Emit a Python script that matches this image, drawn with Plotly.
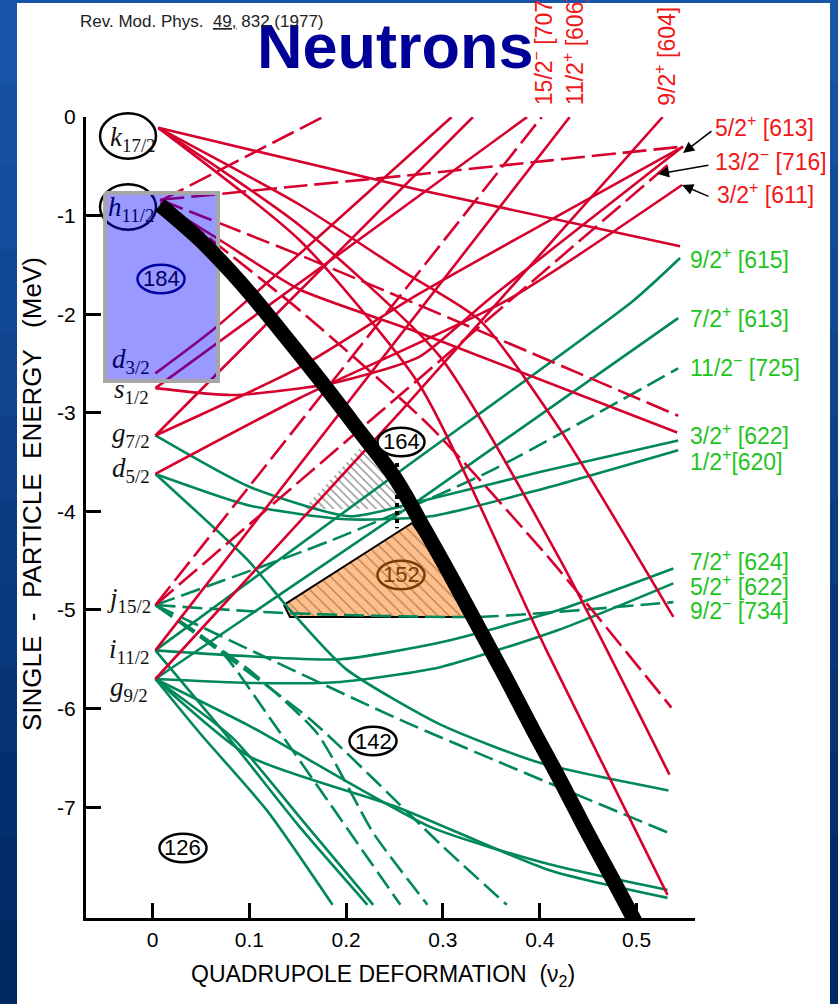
import plotly.graph_objects as go

# ---------------- axis set-up (data units) ----------------
X_RANGE = [-0.0687, 0.5604]
Y_RANGE = [-8.124, 0.0]

x_tick_values = [0, 0.1, 0.2, 0.3, 0.4, 0.5]
x_tick_text = ["0", "0.1", "0.2", "0.3", "0.4", "0.5"]
y_tick_values = [0, -1, -2, -3, -4, -5, -6, -7]
y_tick_text = ["0", "-1", "-2", "-3", "-4", "-5", "-6", "-7"]

# ---------------- spherical orbitals (labels at v = 0) ----------------
orbital_letter = ["k", "h", "d", "s", "g", "d", "j", "i", "g"]
orbital_sub = ["17/2", "11/2", "3/2", "1/2", "7/2", "5/2", "15/2", "11/2", "9/2"]
orbital_label_v = [-0.020, -0.022, -0.022, -0.022, -0.022, -0.022, -0.024, -0.024, -0.024]
orbital_label_E = [-0.22, -0.93, -2.47, -2.78, -3.23, -3.58, -4.90, -5.42, -5.80]
orbital_label_color = ["#111111", "#000066", "#000066", "#111111", "#111111",
                       "#111111", "#111111", "#111111", "#111111"]
orbital_ring_v = [-0.0253, -0.0253]          # ellipses around k17/2 and h11/2
orbital_ring_E = [-0.193, -0.913]

# ---------------- Nilsson levels (v2, E in MeV) ----------------
red_solid_levels = [
    [(0.006, -0.11), (0.276, -0.74), (0.545, -1.31)],
    [(0.006, -0.11), (0.152, -0.89), (0.256, -1.55), (0.338, -2.06), (0.421, -3.17), (0.538, -5.07)],
    [(0.006, -0.11), (0.152, -1.25), (0.276, -2.72), (0.407, -5.41), (0.532, -7.89)],
    [(0.006, -0.11), (0.152, -1.10), (0.297, -2.43), (0.421, -4.49), (0.534, -6.67)],
    [(0.008, -0.87), (0.070, -1.25), (0.152, -1.75), (0.276, -2.19), (0.542, -3.20)],
    [(0.003, -5.70), (0.256, -2.99), (0.527, 0.0)],
    [(0.003, -5.41), (0.431, 0.0)],
    [(0.003, -3.23), (0.152, -2.54), (0.276, -1.79), (0.548, -0.30)],
    [(0.003, -3.62), (0.152, -2.85), (0.366, -1.86), (0.547, -0.69)],
    [(0.003, -3.23), (0.331, 0.0)],
    [(0.003, -2.75), (0.387, 0.0)],
    [(0.003, -2.75), (0.083, -2.82), (0.186, -2.70), (0.276, -2.43), (0.346, -1.86), (0.548, -0.30)],
    [(0.003, -2.60), (0.066, -2.13), (0.309, 0.0)],
]
red_dashed_levels = [
    [(0.008, -0.84), (0.152, -0.70), (0.276, -0.58), (0.411, -0.44), (0.548, -0.30)],
    [(0.010, -0.84), (0.176, 0.0)],
    [(0.008, -0.84), (0.152, -1.40), (0.307, -2.04), (0.543, -3.03)],
    [(0.008, -0.84), (0.152, -1.96), (0.287, -3.14), (0.411, -4.49), (0.536, -5.99)],
    [(0.003, -4.95), (0.402, 0.0)],
    [(0.003, -4.95), (0.532, -0.49)],
]
green_solid_levels = [
    [(0.003, -5.41), (0.256, -3.59), (0.497, -1.86), (0.545, -1.43)],
    [(0.003, -5.70), (0.276, -3.88), (0.543, -2.04)],
    [(0.003, -3.23), (0.10, -3.75), (0.204, -4.05), (0.276, -3.90), (0.40, -3.60), (0.543, -3.28)],
    [(0.003, -3.62), (0.10, -3.94), (0.20, -4.08), (0.287, -4.05), (0.40, -3.78), (0.543, -3.38)],
    [(0.003, -5.41), (0.10, -5.47), (0.194, -5.50), (0.297, -5.33), (0.42, -5.0), (0.538, -4.58)],
    [(0.003, -5.70), (0.10, -5.74), (0.194, -5.73), (0.297, -5.58), (0.42, -5.2), (0.538, -4.73)],
    [(0.003, -5.70), (0.101, -6.18), (0.287, -7.20), (0.41, -7.58), (0.532, -7.84)],
    [(0.003, -5.70), (0.101, -6.49), (0.253, -7.00), (0.41, -7.64), (0.532, -7.92)],
    [(0.003, -3.62), (0.098, -4.49), (0.142, -5.0), (0.20, -5.6), (0.297, -6.16), (0.40, -6.55), (0.533, -6.83)],
    [(0.003, -5.70), (0.049, -6.25), (0.118, -7.03), (0.186, -7.99)],
    [(0.003, -5.41), (0.083, -6.35), (0.152, -7.20), (0.222, -7.99)],
    [(0.003, -5.70), (0.083, -6.30), (0.152, -7.10), (0.228, -7.99)],
]
green_dashed_levels = [
    [(0.003, -4.95), (0.186, -4.29), (0.345, -3.61), (0.543, -2.55)],
    [(0.003, -4.95), (0.135, -5.03), (0.338, -5.07), (0.538, -4.92)],
    [(0.003, -4.95), (0.255, -6.11), (0.533, -7.26)],
    [(0.003, -4.95), (0.163, -6.11), (0.30, -7.40), (0.366, -7.99)],
    [(0.003, -4.95), (0.10, -5.61), (0.17, -6.25), (0.228, -7.26), (0.284, -7.99)],
    [(0.003, -4.95), (0.07, -5.41), (0.125, -6.15), (0.19, -7.06), (0.256, -7.99)],
]

# thick black Fermi-level line
fermi_v = [0.0077, 0.0491, 0.0904, 0.1317, 0.1730, 0.2144, 0.2505, 0.2815,
           0.3104, 0.3383, 0.3662, 0.3931, 0.4210, 0.4478, 0.4757, 0.5005]
fermi_E = [-0.892, -1.247, -1.673, -2.160, -2.667, -3.195, -3.661, -4.189,
           -4.696, -5.203, -5.710, -6.217, -6.724, -7.231, -7.738, -8.195]

# shell gaps
gap152_v = [0.1358, 0.2681, 0.2805, 0.3146, 0.3260, 0.1420, 0.1358]
gap152_E = [-4.949, -4.118, -4.290, -4.899, -5.071, -5.071, -4.949]
gap164_v = [0.1555, 0.2144, 0.2536, 0.2629, 0.1555]
gap164_E = [-3.976, -3.357, -3.783, -3.976, -3.976]
gap164_mark_v = [0.2526, 0.2526]
gap164_mark_E = [-3.51, -4.17]

# N = 184 highlight box
box184_v = [-0.049, 0.0677, 0.0677, -0.049, -0.049]
box184_E = [-0.771, -0.771, -2.677, -2.677, -0.771]

# magic numbers
magic_text = ["184", "164", "152", "142", "126"]
magic_v = [0.0088, 0.2567, 0.2567, 0.2278, 0.0315]
magic_E = [-1.643, -3.296, -4.645, -6.329, -7.414]
magic_color = ["#000066", "#000000", "#7a3d00", "#000000", "#000000"]
magic_fill = ["rgba(0,0,0,0)", "white", "rgba(0,0,0,0)", "white", "white"]

# asymptotic labels on the right
right_text = ["5/2<sup>+</sup> [613]", "13/2<sup>−</sup> [716]", "3/2<sup>+</sup> [611]",
              "9/2<sup>+</sup> [615]", "7/2<sup>+</sup> [613]", "11/2<sup>−</sup> [725]",
              "3/2<sup>+</sup> [622]", "1/2<sup>+</sup>[620]", "7/2<sup>+</sup> [624]",
              "5/2<sup>+</sup> [622]", "9/2<sup>−</sup> [734]"]
right_v = [0.579, 0.579, 0.581, 0.553, 0.553, 0.553, 0.553, 0.553, 0.553, 0.553, 0.553]
right_E = [-0.09, -0.44, -0.77, -1.43, -2.03, -2.53, -3.22, -3.48, -4.49, -4.75, -4.99]
right_color = ["red", "red", "red", "green", "green", "green", "green", "green", "green", "green", "green"]

top_text = ["15/2<sup>−</sup> [707]", "11/2<sup>+</sup> [606]", "9/2<sup>+</sup> [604]"]
top_v = [0.4024, 0.4344, 0.5295]
top_E = [0.10, 0.10, 0.09]

arrow_head_v = [0.548, 0.522, 0.547]
arrow_head_E = [-0.365, -0.578, -0.69]
arrow_dx = [30, 52, 28]
arrow_dy = [-23, -9, 12]

# ---------------- styling ----------------
SANS = "Liberation Sans, Arial, sans-serif"
SERIF = "Liberation Serif, Times New Roman, serif"
RED = "#d6002e"
GREEN = "#00875a"
LABEL_COLORS = {"red": "#f01818", "green": "#22c422"}


def xp(v):
    return (v - X_RANGE[0]) / (X_RANGE[1] - X_RANGE[0])


def yp(e):
    return (e - Y_RANGE[0]) / (Y_RANGE[1] - Y_RANGE[0])


fig = go.Figure()

# shell-gap shading first (lines drawn over it)
fig.add_trace(go.Scatter(
    x=gap164_v, y=gap164_E, mode="lines", fill="toself",
    fillcolor="white", line=dict(width=0, color="rgba(0,0,0,0)"),
    fillpattern=dict(shape="\\", fgcolor="#111111", bgcolor="white", size=6, solidity=0.22),
    hoverinfo="skip", showlegend=False))
fig.add_trace(go.Scatter(
    x=gap152_v, y=gap152_E, mode="lines", fill="toself",
    fillcolor="#ffbf8c", line=dict(width=2, color="black"),
    fillpattern=dict(shape="\\", fgcolor="#6b3a10", bgcolor="#ffbf8c", size=8, solidity=0.16),
    hoverinfo="skip", showlegend=False))


def add_levels(levels, color, dash):
    xs, ys = [], []
    for lvl in levels:
        for v, e in lvl:
            xs.append(v)
            ys.append(e)
        xs.append(None)
        ys.append(None)
    fig.add_trace(go.Scatter(
        x=xs, y=ys, mode="lines",
        line=dict(color=color, width=2.6, dash=dash, shape="spline", smoothing=0.6),
        hoverinfo="skip", showlegend=False))


add_levels(green_solid_levels, GREEN, "solid")
add_levels(green_dashed_levels, GREEN, "20px,7px")
add_levels(red_solid_levels, RED, "solid")
add_levels(red_dashed_levels, RED, "24px,7px")

# N=184 translucent box
fig.add_trace(go.Scatter(
    x=box184_v, y=box184_E, mode="lines", fill="toself",
    fillcolor="rgba(0,0,255,0.4)", line=dict(color="#a6a6a6", width=4),
    hoverinfo="skip", showlegend=False))

# dotted marker of the 164 gap
fig.add_trace(go.Scatter(
    x=gap164_mark_v, y=gap164_mark_E, mode="lines",
    line=dict(color="black", width=4, dash="dot"),
    hoverinfo="skip", showlegend=False))

# Fermi line
fig.add_trace(go.Scatter(
    x=fermi_v, y=fermi_E, mode="lines",
    line=dict(color="black", width=15, shape="spline", smoothing=1.0),
    hoverinfo="skip", showlegend=False))

shapes = []
# slide background border (blue gradient)
n_strip = 12
for i in range(n_strip):
    t = i / (n_strip - 1)
    r = int(24 * (1 - t) + 0 * t)
    g = int(84 * (1 - t) + 40 * t)
    b = int(168 * (1 - t) + 98 * t)
    y_top = 1.1461 - i * (1.1461 + 0.1074) / n_strip
    y_bot = 1.1461 - (i + 1) * (1.1461 + 0.1074) / n_strip
    col = f"rgb({r},{g},{b})"
    shapes.append(dict(type="rect", xref="paper", yref="paper", x0=-0.1412, x1=-0.1133,
                       y0=y_bot, y1=y_top + 0.002, fillcolor=col, line=dict(width=0), layer="below"))
    shapes.append(dict(type="rect", xref="paper", yref="paper", x0=1.2217, x1=1.2360,
                       y0=y_bot, y1=y_top + 0.002, fillcolor=col, line=dict(width=0), layer="below"))
shapes.append(dict(type="rect", xref="paper", yref="paper", x0=-0.1412, x1=1.2360,
                   y0=1.1423, y1=1.1470, fillcolor="rgb(24,84,168)", line=dict(width=0), layer="below"))

# rings around k17/2, h11/2
for v, e in zip(orbital_ring_v, orbital_ring_E):
    shapes.append(dict(type="circle", xref="paper", yref="paper",
                       x0=xp(v - 0.0289), x1=xp(v + 0.0289), y0=yp(e - 0.23), y1=yp(e + 0.23),
                       line=dict(color="black", width=2.5), layer="below"))
# magic-number ellipses
for v, e, c, f in zip(magic_v, magic_E, magic_color, magic_fill):
    shapes.append(dict(type="circle", xref="paper", yref="paper",
                       x0=xp(v - 0.0243), x1=xp(v + 0.0243), y0=yp(e - 0.145), y1=yp(e + 0.145),
                       line=dict(color=c, width=2.5), fillcolor=f,
                       layer="below" if v < 0.05 and e > -3 else "above"))

annotations = []
for L, s, v, e, c in zip(orbital_letter, orbital_sub, orbital_label_v, orbital_label_E, orbital_label_color):
    annotations.append(dict(xref="paper", yref="paper", x=xp(v), y=yp(e),
                            text=f"<i>{L}</i><sub>{s}</sub>", showarrow=False,
                            xanchor="center", yanchor="middle",
                            font=dict(family=SERIF, size=27, color=c)))
for t, v, e, c in zip(magic_text, magic_v, magic_E, magic_color):
    annotations.append(dict(xref="paper", yref="paper", x=xp(v), y=yp(e), text=t, showarrow=False,
                            xanchor="center", yanchor="middle",
                            font=dict(family=SANS, size=22, color=c)))
for t, v, e, c in zip(right_text, right_v, right_E, right_color):
    annotations.append(dict(xref="paper", yref="paper", x=xp(v), y=yp(e), text=t, showarrow=False,
                            xanchor="left", yanchor="middle",
                            font=dict(family=SANS, size=23, color=LABEL_COLORS[c])))
for t, v, e in zip(top_text, top_v, top_E):
    annotations.append(dict(xref="paper", yref="paper", x=xp(v), y=yp(e), text=t, showarrow=False,
                            textangle=-90, xanchor="center", yanchor="bottom",
                            font=dict(family=SANS, size=23, color=LABEL_COLORS["red"])))
for v, e, dx, dy in zip(arrow_head_v, arrow_head_E, arrow_dx, arrow_dy):
    annotations.append(dict(xref="x", yref="y", x=v, y=e, ax=dx, ay=dy, text="",
                            showarrow=True, arrowhead=2, arrowsize=1.4, arrowwidth=1.6,
                            arrowcolor="black"))

# titles
annotations.append(dict(xref="paper", yref="paper", x=xp(0.2515), y=yp(0.72), text="<b>Neutrons</b>",
                        showarrow=False, xanchor="center", yanchor="middle",
                        font=dict(family=SANS, size=63, color="#000099")))
annotations.append(dict(xref="paper", yref="paper", x=xp(0.0511), y=yp(0.965),
                        text="Rev. Mod. Phys.  <u>49,</u> 832 (1977)", showarrow=False,
                        xanchor="center", yanchor="middle",
                        font=dict(family=SANS, size=17, color="#222222")))
annotations.append(dict(xref="paper", yref="paper", x=xp(0.2381), y=yp(-8.712),
                        text="QUADRUPOLE DEFORMATION  (ν<sub>2</sub>)", showarrow=False,
                        xanchor="center", yanchor="middle",
                        font=dict(family=SANS, size=23, color="black")))
annotations.append(dict(xref="paper", yref="paper", x=xp(-0.1245), y=yp(-3.824),
                        text="SINGLE  -  PARTICLE  ENERGY   (MeV)", showarrow=False, textangle=-90,
                        xanchor="center", yanchor="middle",
                        font=dict(family=SANS, size=26, color="black")))

axis_common = dict(ticks="inside", ticklen=15, tickwidth=2.5, tickcolor="black",
                   showline=True, linewidth=3, linecolor="black", showgrid=False,
                   zeroline=False, fixedrange=True,
                   tickfont=dict(family=SANS, size=21, color="black"))
fig.update_layout(
    width=838, height=1004,
    margin=dict(l=86, r=143, t=117, b=86),
    paper_bgcolor="white", plot_bgcolor="white",
    showlegend=False,
    xaxis=dict(range=X_RANGE, tickmode="array", tickvals=x_tick_values, ticktext=x_tick_text,
               ticklabelstandoff=1, **axis_common),
    yaxis=dict(range=Y_RANGE, tickmode="array", tickvals=y_tick_values, ticktext=y_tick_text,
               ticklabelstandoff=3, **axis_common),
    shapes=shapes,
    annotations=annotations,
)

fig.write_html("out.html")
